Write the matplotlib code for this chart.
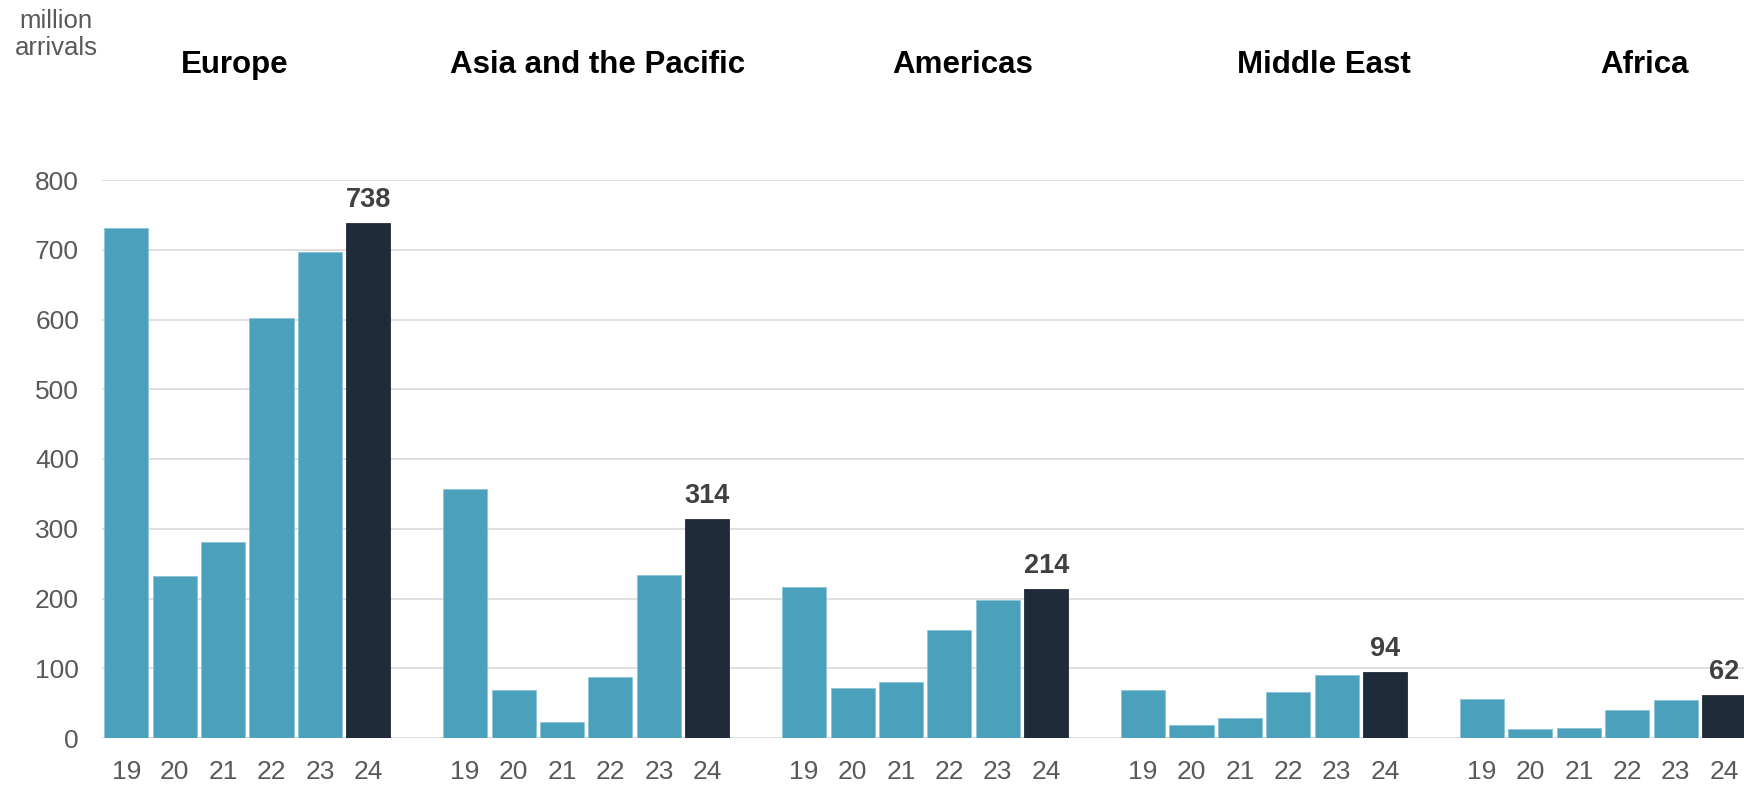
import matplotlib
matplotlib.use("Agg")
import matplotlib.pyplot as plt
import numpy as np

plt.rcParams['font.family'] = ['Liberation Sans', 'DejaVu Sans']

# International tourist arrivals by region, million
regions = ["Europe", "Asia and the Pacific", "Americas", "Middle East", "Africa"]
years = ["19", "20", "21", "22", "23", "24"]
europe = [731, 232, 281, 602, 697, 738]
asia_pacific = [357, 69, 23, 87, 233, 314]
americas = [217, 71, 80, 155, 198, 214]
middle_east = [69, 18, 29, 66, 91, 94]
africa = [56, 13, 14, 40, 55, 62]
series = [europe, asia_pacific, americas, middle_east, africa]

W, H = 1744, 785

# title placement (figure fraction, horizontal centre of each region name)
title_x = [235 / W, 598 / W, 963 / W, 1324 / W, 1644 / W]

TEAL = "#4BA1BC"
DARK = "#1F2B38"
GRID = "#D9D9D9"
TICK = "#595959"
VALUE = "#404040"

fig = plt.figure(figsize=(W / 100, H / 100), dpi=100)
ax = fig.add_axes([102 / W, 47 / H, 1642 / W, 558 / H])

slot = 0
positions, labels = [], []
for vals in series:
    xs = np.arange(len(vals)) + slot
    colors = [TEAL] * (len(vals) - 1) + [DARK]
    edges = ["#8CC4D6"] * (len(vals) - 1) + [DARK]
    ax.bar(xs, vals, width=0.91, color=colors, edgecolor=edges,
           linewidth=0.6, zorder=3)
    ax.annotate(f"{vals[-1]}", xy=(xs[-1], vals[-1]), xytext=(0, 11.5),
                textcoords="offset points", ha="center", va="baseline",
                fontsize=19.5, fontweight="bold", color=VALUE,
                annotation_clip=False, zorder=4)
    positions.extend(xs)
    labels.extend(years)
    slot += len(vals) + 1

ax.set_xlim(-0.5, 33.41)
ax.set_ylim(0, 800)
ax.set_yticks(np.arange(0, 801, 100))
ax.set_xticks(positions)
ax.set_xticklabels(labels)
ax.tick_params(axis="y", length=0, pad=16.5, labelsize=19, labelcolor=TICK)
ax.tick_params(axis="x", length=0, pad=15.5, labelsize=19, labelcolor=TICK)
ax.grid(axis="y", color=GRID, linewidth=1.2, zorder=0)
ax.set_axisbelow(True)
for s in ax.spines.values():
    s.set_visible(False)

for name, x in zip(regions, title_x):
    fig.text(x, 1 - 72.7 / H, name, ha="center", va="baseline",
             fontsize=22.5, fontweight="bold", color="black")

fig.text(56 / W, 1 - 28 / H, "million", ha="center", va="baseline",
         fontsize=18.5, color=TICK)
fig.text(56 / W, 1 - 55 / H, "arrivals", ha="center", va="baseline",
         fontsize=18.5, color=TICK)

fig.savefig("out.png", dpi=100, facecolor="white")
